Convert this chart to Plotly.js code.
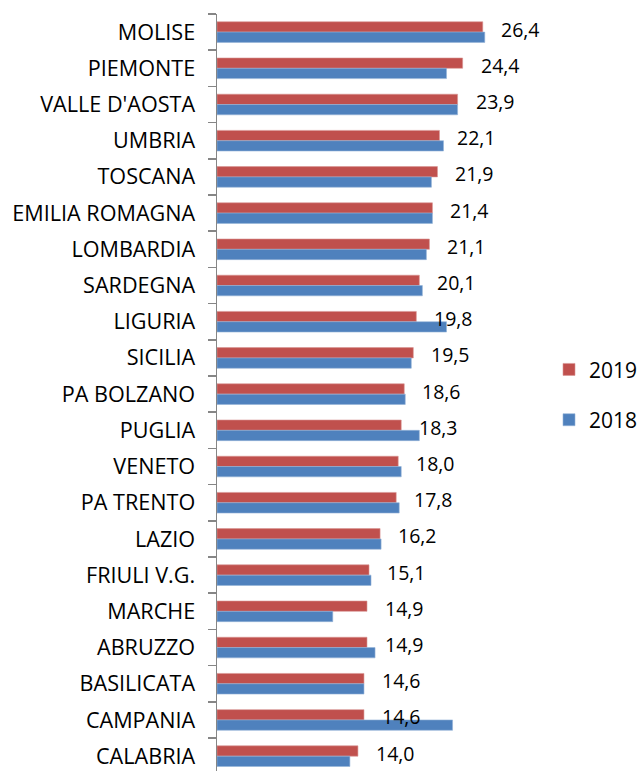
<!DOCTYPE html>
<html>
<head>
<meta charset="utf-8">
<script src="https://cdn.plot.ly/plotly-3.0.1.min.js"></script>
<style>
html,body{margin:0;padding:0;background:#fff;overflow:hidden;}
#chart{width:643px;height:771px;}
</style>
</head>
<body>
<div id="chart"></div>
<script>
const regions = ["MOLISE","PIEMONTE","VALLE D'AOSTA","UMBRIA","TOSCANA","EMILIA ROMAGNA","LOMBARDIA","SARDEGNA","LIGURIA","SICILIA","PA BOLZANO","PUGLIA","VENETO","PA TRENTO","LAZIO","FRIULI V.G.","MARCHE","ABRUZZO","BASILICATA","CAMPANIA","CALABRIA"];
const values2019 = [26.4,24.4,23.9,22.1,21.9,21.4,21.1,20.1,19.8,19.5,18.6,18.3,18.0,17.8,16.2,15.1,14.9,14.9,14.6,14.6,14.0];
const values2018 = [26.6,22.8,23.9,22.5,21.3,21.4,20.8,20.4,22.8,19.3,18.7,20.1,18.3,18.1,16.3,15.3,11.5,15.7,14.6,23.4,13.2];
const seriesNames = ["2019","2018"];

const font = "Open Sans, sans-serif";
const traces = [
  {type:'bar', orientation:'h', name:seriesNames[0], y:regions, x:values2019,
   marker:{color:'#C0504D', line:{color:'#D99694', width:0.6}}, legendgroup:'a', hoverinfo:'x+y'},
  {type:'bar', orientation:'h', name:seriesNames[1], y:regions, x:values2018,
   marker:{color:'#4F81BD', line:{color:'#95B3D7', width:0.6}}, legendgroup:'b', hoverinfo:'x+y'}
];

const annotations = regions.map((r,i)=>({
  x: values2019[i], y: r, xref:'x', yref:'y',
  text: values2019[i].toFixed(1).replace('.',','),
  showarrow:false, xanchor:'left', yanchor:'middle', xshift:16, yshift:3,
  font:{family:font, size:19.5, color:'#000'}
}));

const layout = {
  width:643, height:771,
  margin:{l:217, r:119, t:14, b:0, pad:0},
  paper_bgcolor:'#fff', plot_bgcolor:'#fff',
  barmode:'group', bargap:0.43, bargroupgap:0,
  showlegend:true,
  legend:{x:1.1, y:0.497, xanchor:'left', yanchor:'middle', traceorder:'grouped', tracegroupgap:20,
          font:{family:font, size:21, color:'#000'}, bgcolor:'rgba(0,0,0,0)'},
  xaxis:{range:[0,30], showgrid:false, zeroline:false, showline:false, showticklabels:false, ticks:'', fixedrange:true},
  yaxis:{type:'category', range:[20.41,-0.5], showgrid:false, zeroline:false,
         showline:true, linecolor:'#868686', linewidth:1.5,
         ticks:'outside', tickson:'boundaries', ticklen:8, tickcolor:'#868686', tickwidth:1.5,
         ticklabelstandoff:16,
         tickfont:{family:font, size:21.6, color:'#000'}, automargin:false},
  annotations:annotations,
  font:{family:font}
};

Plotly.newPlot('chart', traces, layout, {displayModeBar:false, staticPlot:true});
</script>
</body>
</html>
